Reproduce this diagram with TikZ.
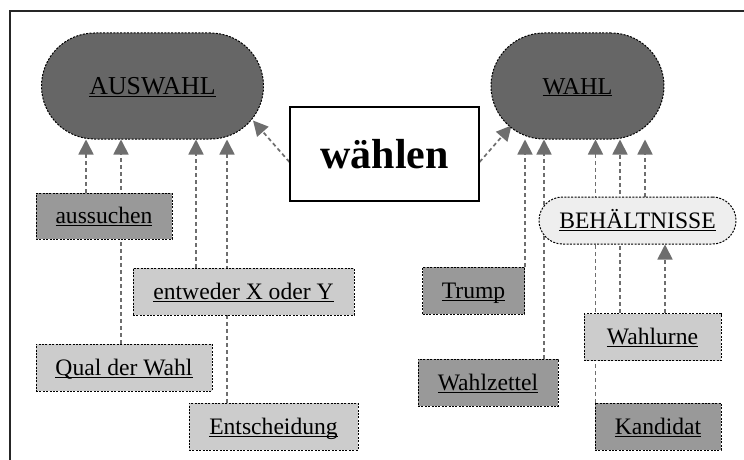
\documentclass[tikz,border=0pt]{standalone}
\usepackage{fontspec}
\setmainfont{Liberation Serif}
\usetikzlibrary{arrows.meta,backgrounds}
\definecolor{darkfill}{HTML}{666666}
\definecolor{midfill}{HTML}{999999}
\definecolor{lightfill}{HTML}{CCCCCC}
\definecolor{palefill}{HTML}{EEEEEE}
\definecolor{arrowgray}{HTML}{6E6E6E}
\newcommand{\lbl}[1]{\smash{\underline{\smash{#1}}}\rule{0pt}{0.662em}}
\tikzset{
  term/.style={draw=black, line width=1pt, dash pattern=on 2pt off 1.4pt,
    minimum height=47pt, inner sep=0pt, font=\fontsize{23.6}{28}\selectfont},
  concept/.style={term, fill=darkfill, minimum height=106pt, rounded corners=53pt},
  group/.style={term, fill=palefill, rounded corners=23.5pt},
  darkterm/.style={term, fill=midfill},
  lightterm/.style={term, fill=lightfill},
  verb/.style={draw=black, line width=1.2pt, fill=white, minimum width=189pt,
    minimum height=94pt, font=\bfseries\fontsize{42}{50}\selectfont},
  link/.style={draw=arrowgray, line width=1.7pt, dash pattern=on 4pt off 3pt,
    -{Triangle[length=15pt,width=15pt]}},
}
\begin{document}
\begin{tikzpicture}[x=1pt,y=1pt]
  \useasboundingbox (0,0) rectangle (744,-460);
  \draw
    (152.5,-86) node[concept, minimum width=222, font=\fontsize{25.8}{30}\selectfont] (auswahl) {\lbl{AUSWAHL}}
    (577.5,-86) node[concept, minimum width=173, font=\fontsize{24.2}{29}\selectfont] (wahl) {\lbl{WAHL}}
    (384.5,-154) node[verb] (waehlen) {wählen}
    (637.5,-220.5) node[group, minimum width=197] (behaelter) {\lbl{BEHÄLTNISSE}}
    (104,-216) node[darkterm, minimum width=136, minimum height=46] (aussuchen) {\lbl{aussuchen}}
    (243.5,-291.5) node[lightterm, minimum width=221] (entweder) {\lbl{entweder X oder Y}}
    (124,-367.5) node[lightterm, minimum width=176] (qual) {\lbl{Qual der Wahl}}
    (273.5,-426.5) node[lightterm, minimum width=169] (entscheidung) {\lbl{Entscheidung}}
    (473.5,-290.5) node[darkterm, minimum width=102] (trump) {\lbl{Trump}}
    (488,-382.5) node[darkterm, minimum width=140] (wahlzettel) {\lbl{Wahlzettel}}
    (652.5,-337) node[lightterm, minimum width=137] (wahlurne) {\lbl{Wahlurne}}
    (658,-426.5) node[darkterm, minimum width=126] (kandidat) {\lbl{Kandidat}};
  \begin{pgfonlayer}{background}
    \draw[line width=1.5pt, black!85] (10,-11) rectangle (800,-500);
    \begin{scope}[link]
      \draw ([xshift=-18]aussuchen.north) to ([xshift=-18]aussuchen.north |- auswahl.south);
      \draw ([xshift=-3]qual.north) to ([xshift=-3]qual.north |- auswahl.south);
      \draw ([xshift=-47.5]entweder.north) to ([xshift=-47.5]entweder.north |- auswahl.south);
      \draw ([xshift=-46.5]entscheidung.north) to ([xshift=-46.5]entscheidung.north |- auswahl.south);
      \draw ([yshift=-8]waehlen.west) to ([shift={(-11,19)}]auswahl.south east);
      \draw ([yshift=-8]waehlen.east) to ([shift={(21,14)}]wahl.south west);
      \draw (trump.north east) to (trump.north east |- wahl.south);
      \draw ([xshift=56]wahlzettel.north) to ([xshift=56]wahlzettel.north |- wahl.south);
      \draw ([xshift=1]kandidat.north west) to ([xshift=1]kandidat.north west |- wahl.south);
      \draw ([xshift=-32.5]wahlurne.north) to ([xshift=-32.5]wahlurne.north |- wahl.south);
      \draw ([xshift=7.5]behaelter.north) to ([xshift=7.5]behaelter.north |- wahl.south);
      \draw ([xshift=12.5]wahlurne.north) to ([xshift=12.5]wahlurne.north |- behaelter.south);
    \end{scope}
  \end{pgfonlayer}
\end{tikzpicture}
\end{document}
